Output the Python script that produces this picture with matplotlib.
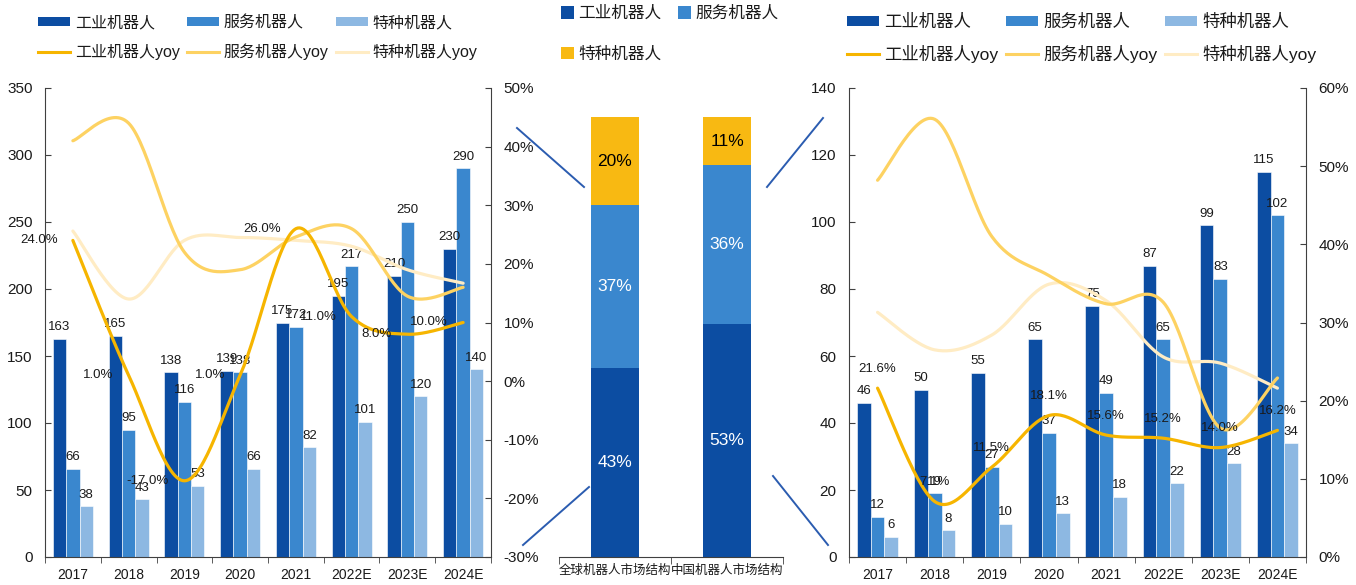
import numpy as np
import matplotlib
matplotlib.use('Agg')
import matplotlib.pyplot as plt
from matplotlib.patches import Patch
from matplotlib.lines import Line2D
from matplotlib.ticker import FuncFormatter, MultipleLocator

plt.rcParams['font.family'] = ['Liberation Sans', 'Noto Sans CJK SC', 'DejaVu Sans']

# ---------------- data ----------------
years = ['2017', '2018', '2019', '2020', '2021', '2022E', '2023E', '2024E']
series_names = ['工业机器人', '服务机器人', '特种机器人']
yoy_names = ['工业机器人yoy', '服务机器人yoy', '特种机器人yoy']

global_ind = [163, 165, 138, 139, 175, 195, 210, 230]
global_srv = [66, 95, 116, 138, 172, 217, 250, 290]
global_spc = [38, 43, 53, 66, 82, 101, 120, 140]
global_ind_yoy = [24.0, 1.0, -17.0, 1.0, 26.0, 11.0, 8.0, 10.0]
global_srv_yoy = [41.0, 44.0, 22.0, 19.0, 24.6, 26.0, 14.5, 16.0]
global_spc_yoy = [25.6, 14.0, 24.0, 24.5, 24.0, 23.0, 19.0, 16.7]

china_ind = [46, 50, 55, 65, 75, 87, 99, 115]
china_srv = [12, 19, 27, 37, 49, 65, 83, 102]
china_spc = [6, 8, 10, 13, 18, 22, 28, 34]
china_ind_yoy = [21.6, 7.1, 11.5, 18.1, 15.6, 15.2, 14.0, 16.2]
china_srv_yoy = [48.2, 56.0, 41.0, 36.0, 32.4, 32.6, 16.5, 22.9]
china_spc_yoy = [31.3, 26.5, 28.4, 34.9, 32.8, 25.6, 24.8, 21.6]

structure_cats = ['全球机器人市场结构', '中国机器人市场结构']
structure_ind = [43, 53]
structure_srv = [37, 36]
structure_spc = [20, 11]

# ---------------- style ----------------
C_IND = '#0C4DA2'
C_SRV = '#3A87CE'
C_SPC = '#8DB8E2'
C_YEL = '#F8B912'
L_IND = '#F6B500'
L_SRV = '#FDD262'
L_SPC = '#FFECC4'
TXT = '#1A1A1A'
SPINE = '#404040'
LINK = '#2B5CB0'

W, H = 1356, 585
fig = plt.figure(figsize=(W / 100, H / 100), dpi=100)


def rect(x0, y0, x1, y1):
    return [x0 / W, 1 - y1 / H, (x1 - x0) / W, (y1 - y0) / H]


def smooth(xs, ys, n=30):
    xs = np.asarray(xs, float)
    ys = np.asarray(ys, float)
    P = np.column_stack([xs, ys])
    out = []
    m = len(P)
    for i in range(m - 1):
        p0 = P[i - 1] if i > 0 else P[i]
        p1 = P[i]
        p2 = P[i + 1]
        p3 = P[i + 2] if i + 2 < m else P[i + 1]
        c1 = p1 + (p2 - p0) / 6
        c2 = p2 - (p3 - p1) / 6
        t = np.linspace(0, 1, n)[:, None]
        seg = ((1 - t) ** 3) * p1 + 3 * ((1 - t) ** 2) * t * c1 + 3 * (1 - t) * t ** 2 * c2 + t ** 3 * p2
        out.append(seg if i == 0 else seg[1:])
    s = np.vstack(out)
    return s[:, 0], s[:, 1]


def combo(ax, ind, srv, spc, ind_yoy, srv_yoy, spc_yoy, ymax, ystep, y2lim, y2step, label_mode):
    x = np.arange(len(years))
    bw = 0.24
    for vals, col, off in [(ind, C_IND, -bw), (srv, C_SRV, 0), (spc, C_SPC, bw)]:
        bars = ax.bar(x + off, vals, width=bw, color=col, edgecolor='white', linewidth=0.4, zorder=2)
        for b, v in zip(bars, vals):
            ax.annotate(f'{v}', (b.get_x() + b.get_width() / 2, v), xytext=(0, 4),
                        textcoords='offset points', ha='center', va='bottom',
                        fontsize=9.5, color=TXT, zorder=5)
    ax.set_xlim(-0.5, len(years) - 0.5)
    ax.set_ylim(0, ymax)
    ax.yaxis.set_major_locator(MultipleLocator(ystep))
    ax.set_xticks(x)
    ax.set_xticklabels(years)
    ax.set_xticks(np.arange(-0.5, len(years), 1), minor=True)
    ax.tick_params(axis='x', which='major', length=0, labelsize=10, colors=TXT, pad=8)
    ax.tick_params(axis='x', which='minor', length=4, direction='out', color=SPINE)
    ax.tick_params(axis='y', labelsize=11, colors=TXT, length=4, direction='in', color=SPINE, pad=9)
    for s in ['top', 'right']:
        ax.spines[s].set_visible(False)
    for s in ['left', 'bottom']:
        ax.spines[s].set_color(SPINE)

    ax2 = ax.twinx()
    ax2.set_ylim(*y2lim)
    ax2.yaxis.set_major_locator(MultipleLocator(y2step))
    ax2.yaxis.set_major_formatter(FuncFormatter(lambda v, p: f'{v:.0f}%'))
    ax2.tick_params(axis='y', labelsize=11, colors=TXT, length=4, direction='in', color=SPINE, pad=9)
    for s in ['top', 'left', 'bottom']:
        ax2.spines[s].set_visible(False)
    ax2.spines['right'].set_color(SPINE)
    for vals, col in [(spc_yoy, L_SPC), (srv_yoy, L_SRV), (ind_yoy, L_IND)]:
        sx, sy = smooth(x, vals)
        ax2.plot(sx, sy, color=col, lw=2.3, solid_capstyle='round', zorder=3)
    for xi, v in zip(x, ind_yoy):
        if label_mode == 'left':
            ax2.annotate(f'{v:.1f}%', (xi, v), xytext=(-11, 0), textcoords='offset points',
                         ha='right', va='center', fontsize=9.5, color=TXT, zorder=6)
        else:
            ax2.annotate(f'{v:.1f}%', (xi, v), xytext=(0, 14), textcoords='offset points',
                         ha='center', va='center', fontsize=9.5, color=TXT, zorder=6)
    return ax2


def combo_legend(x0, y0, fs, cs):
    handles = []
    labels = []
    for name, yname, bc, lc in zip(series_names, yoy_names, [C_IND, C_SRV, C_SPC], [L_IND, L_SRV, L_SPC]):
        handles.append(Patch(facecolor=bc, edgecolor='none'))
        labels.append(name)
        handles.append(Line2D([], [], color=lc, lw=2.2))
        labels.append(yname)
    fig.legend(handles, labels, ncol=3, loc='upper left', bbox_to_anchor=(x0 / W, 1 - y0 / H),
               frameon=False, fontsize=fs, handlelength=32 / (fs * 1.39), handleheight=0.55,
               handletextpad=0.3, columnspacing=cs, labelspacing=0.85, borderpad=0, borderaxespad=0,
               labelcolor=TXT)


# ---------------- left: global ----------------
axL = fig.add_axes(rect(45, 88, 491, 557))
combo(axL, global_ind, global_srv, global_spc, global_ind_yoy, global_srv_yoy, global_spc_yoy,
      350, 50, (-30, 50), 10, 'left')
combo_legend(38, 15, 11.5, 0.45)

# ---------------- right: China ----------------
axR = fig.add_axes(rect(849, 88, 1306, 557))
combo(axR, china_ind, china_srv, china_spc, china_ind_yoy, china_srv_yoy, china_spc_yoy,
      140, 20, (0, 60), 10, 'above')
combo_legend(847, 14, 12.5, 0.45)

# ---------------- middle: structure ----------------
axM = fig.add_axes(rect(559, 117, 783, 557))
xm = np.arange(len(structure_cats))
bwm = 0.43
bottom = np.zeros(len(xm))
for vals, col, tc in [(structure_ind, C_IND, 'white'), (structure_srv, C_SRV, 'white'), (structure_spc, C_YEL, 'black')]:
    axM.bar(xm, vals, bottom=bottom, width=bwm, color=col, edgecolor='none', zorder=2)
    for xi, b, v in zip(xm, bottom, vals):
        axM.text(xi, b + v / 2, f'{v}%', ha='center', va='center', fontsize=12.5, color=tc, zorder=4)
    bottom = bottom + np.asarray(vals)
axM.set_xlim(-0.5, len(xm) - 0.5)
axM.set_ylim(0, 100)
axM.set_yticks([])
axM.set_xticks(xm)
axM.set_xticklabels(structure_cats, fontsize=9, color=TXT)
axM.set_xticks(np.arange(-0.5, len(xm), 1), minor=True)
axM.tick_params(axis='x', which='major', length=0, pad=6)
axM.tick_params(axis='x', which='minor', length=5, direction='out', color=SPINE)
for s in ['top', 'right', 'left']:
    axM.spines[s].set_visible(False)
axM.spines['bottom'].set_color(SPINE)
axM.patch.set_alpha(0)

mh = [Patch(facecolor=C_IND), Patch(facecolor=C_YEL), Patch(facecolor=C_SRV)]
ml = [series_names[0], series_names[2], series_names[1]]
fig.legend(mh, ml, ncol=2, loc='upper left', bbox_to_anchor=(561 / W, 1 - 6 / H), frameon=False,
           fontsize=12, handlelength=0.75, handleheight=0.75, handletextpad=0.3, columnspacing=1.0,
           labelspacing=1.5, borderpad=0, borderaxespad=0, labelcolor=TXT)

# decorative connector lines
for (x1, y1), (x2, y2) in [((517, 128), (584, 187)), ((523, 545), (589, 487)),
                           ((767, 187), (823, 118)), ((773, 476), (828, 545))]:
    fig.add_artist(Line2D([x1 / W, x2 / W], [1 - y1 / H, 1 - y2 / H], transform=fig.transFigure,
                          color=LINK, lw=1.4))

fig.savefig('out.png', dpi=100)
